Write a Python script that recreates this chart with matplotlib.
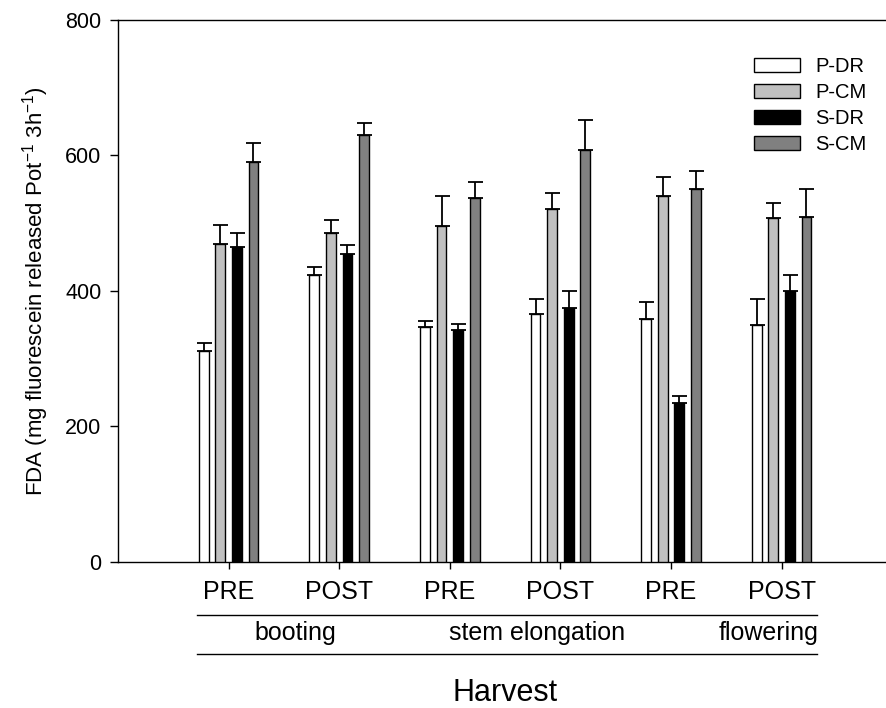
import matplotlib.pyplot as plt
import matplotlib.transforms as mtransforms
import numpy as np

plt.rcParams['font.family'] = ['Liberation Sans', 'DejaVu Sans']
plt.rcParams['mathtext.default'] = 'regular'

# Data
harvest_labels = ['PRE', 'POST', 'PRE', 'POST', 'PRE', 'POST']
stages = ['booting', 'stem elongation', 'flowering']
series_names = ['P-DR', 'P-CM', 'S-DR', 'S-CM']
colors = ['#ffffff', '#c0c0c0', '#000000', '#808080']

p_dr = [311, 423, 347, 365, 359, 349]
p_cm = [469, 485, 496, 520, 540, 507]
s_dr = [465, 454, 342, 374, 234, 400]
s_cm = [590, 630, 537, 607, 550, 509]

p_dr_err = [12, 12, 8, 23, 24, 39]
p_cm_err = [28, 20, 44, 24, 28, 23]
s_dr_err = [20, 14, 9, 25, 11, 23]
s_cm_err = [28, 17, 24, 45, 27, 41]

values = [p_dr, p_cm, s_dr, s_cm]
errors = [p_dr_err, p_cm_err, s_dr_err, s_cm_err]

fig = plt.figure(figsize=(8.86, 7.08), dpi=100)
ax = fig.add_axes([118 / 886, 1 - 562 / 708, 1 - 118 / 886, (562 - 19.5) / 708])

x = np.arange(1, len(harvest_labels) + 1)
step = 0.15
width = 0.088
for i, (vals, errs) in enumerate(zip(values, errors)):
    pos = x + (i - 1.5) * step
    ax.bar(pos, vals, width=width, color=colors[i], edgecolor='black',
           linewidth=1.0, label=series_names[i], zorder=3)
    ax.errorbar(pos, vals, yerr=[np.zeros(len(errs)), errs], fmt='none',
                ecolor='black', elinewidth=1.3, capsize=5.4, capthick=1.3,
                zorder=2)

ax.set_xlim(0, (886 - 118) / 110.6)
ax.set_ylim(0, 800)
ax.set_yticks([0, 200, 400, 600, 800])
ax.set_xticks(x)
ax.set_xticklabels(harvest_labels, fontsize=18)
ax.tick_params(axis='y', labelsize=15.5, length=6, width=1, direction='out', pad=6)
ax.tick_params(axis='x', length=5, width=1, direction='out', pad=8)
ax.spines['right'].set_visible(False)
for s in ['left', 'bottom', 'top']:
    ax.spines[s].set_linewidth(1.0)

ax.set_ylabel('FDA (mg fluorescein released Pot$^{-1}$ 3h$^{-1}$)', fontsize=16, labelpad=10)

# Second-level group labels below the axis
trans = mtransforms.blended_transform_factory(ax.transData, ax.transAxes)
x0, x1 = (197 - 118) / 110.6, (817 - 118) / 110.6
for yl in [-0.0977, -0.1696]:
    ax.plot([x0, x1], [yl, yl], color='black', linewidth=1.0, transform=trans, clip_on=False)
stage_pos = [(295 - 118) / 110.6, (537 - 118) / 110.6, (769 - 118) / 110.6]
for sx, name in zip(stage_pos, stages):
    ax.text(sx, -0.131, name, transform=trans, ha='center', va='center', fontsize=18)
ax.text((505 - 118) / 110.6, -0.2415, 'Harvest', transform=trans, ha='center', va='center', fontsize=22)

ax.legend(loc='upper left', bbox_to_anchor=(754 / 886, 1 - 57 / 708),
          bbox_transform=fig.transFigure, frameon=False, fontsize=14.5,
          handlelength=2.29, handleheight=0.75, handletextpad=0.75,
          labelspacing=0.35, borderpad=0, borderaxespad=0)

fig.savefig('out.png', dpi=100)
